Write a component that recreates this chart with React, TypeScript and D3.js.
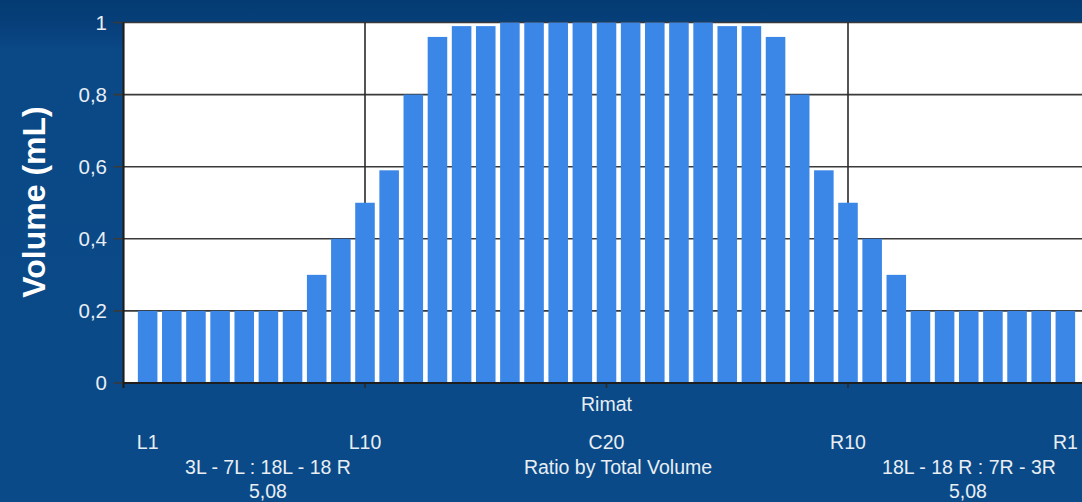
import React from "react";
import * as d3 from "d3";

const categories: string[] = [
  "L1","L2","L3","L4","L5","L6","L7","L8","L9","L10",
  "L11","L12","L13","L14","L15","L16","L17","L18","L19","C20",
  "R19","R18","R17","R16","R15","R14","R13","R12","R11","R10",
  "R9","R8","R7","R6","R5","R4","R3","R2","R1",
];

const volumes: number[] = [
  0.2, 0.2, 0.2, 0.2, 0.2, 0.2, 0.2, 0.3, 0.4, 0.5,
  0.59, 0.8, 0.96, 0.99, 0.99, 1, 1, 1, 1, 1,
  1, 1, 1, 1, 0.99, 0.99, 0.96, 0.8, 0.59, 0.5,
  0.4, 0.3, 0.2, 0.2, 0.2, 0.2, 0.2, 0.2, 0.2,
];

const yTicks: number[] = [0, 0.2, 0.4, 0.6, 0.8, 1];
const xTickLabels: string[] = ["L1", "L10", "C20", "R10", "R1"];
const xGridPositions: number[] = [0, 10, 20, 30];

const axisTitleX = "Rimat";
const axisTitleY = "Volume (mL)";
const leftRatioLabel = "3L - 7L : 18L - 18 R";
const leftRatioValue = "5,08";
const centerRatioLabel = "Ratio by Total Volume";
const rightRatioLabel = "18L - 18 R : 7R - 3R";
const rightRatioValue = "5,08";

const W = 1082;
const H = 502;
const FONT = "'Liberation Sans', Arial, sans-serif";
const TEXT = "#e8eef4";

export default function App() {
  const x = d3.scaleLinear().domain([0, 40]).range([123.5, 1089.5]);
  const y = d3.scaleLinear().domain([0, 1]).range([383, 22.5]);
  const step = x(1) - x(0);
  const barW = step * 0.81;
  const fmt = (v: number) => (v === 0 || v === 1 ? String(v) : d3.format(".1f")(v).replace(".", ","));
  const pos = (label: string) => categories.indexOf(label) + 1;

  return (
    <>
      <style>{"body{margin:0}"}</style>
      <svg width={W} height={H} style={{ display: "block" }} fontFamily={FONT}>
        <defs>
          <linearGradient id="bg" x1="0" y1="0" x2="0" y2="1">
            <stop offset="0" stopColor="#033b72" />
            <stop offset="0.05" stopColor="#073f7a" />
            <stop offset="0.1" stopColor="#0a4886" />
            <stop offset="1" stopColor="#0b4a88" />
          </linearGradient>
        </defs>
        <rect x={0} y={0} width={W} height={H} fill="url(#bg)" />
        <rect x={x(0)} y={y(1)} width={x(40) - x(0)} height={y(0) - y(1)} fill="#ffffff" />
        {/* grid */}
        {yTicks.map((t) => (
          <line key={"gy" + t} x1={x(0) - 10} x2={x(40)} y1={y(t)} y2={y(t)} stroke="#3a3a3a" strokeWidth={1.6} />
        ))}
        {xGridPositions.map((p) => (
          <line key={"gx" + p} x1={x(p)} x2={x(p)} y1={y(1)} y2={y(0) + 5} stroke="#2a2a2a" strokeWidth={1.6} />
        ))}
        {/* bars */}
        {volumes.map((v, i) => (
          <rect
            key={"b" + i}
            x={x(i + 1) - barW / 2}
            y={y(v)}
            width={barW}
            height={y(0) - y(v)}
            fill="#3b87e8"
          />
        ))}
        {/* axes */}
        <line x1={x(0)} x2={x(0)} y1={y(1)} y2={y(0) + 5} stroke="#1e1e1e" strokeWidth={1.8} />
        <line x1={x(0)} x2={x(40)} y1={y(0)} y2={y(0)} stroke="#1e1e1e" strokeWidth={1.8} />
        {yTicks.map((t) => (
          <text key={"ty" + t} x={107} y={y(t)} dy="0.36em" textAnchor="end" fontSize={20.5} fill={TEXT}>
            {fmt(t)}
          </text>
        ))}
        <text
          transform={`translate(45,202) rotate(-90)`}
          textAnchor="middle"
          fontSize={32}
          fontWeight="bold"
          fill="#ffffff"
        >
          {axisTitleY}
        </text>
        <text x={x(20)} y={411} textAnchor="middle" fontSize={19.5} fill={TEXT}>{axisTitleX}</text>
        {xTickLabels.map((l) => (
          <text key={"tx" + l} x={x(pos(l))} y={449} textAnchor="middle" fontSize={19.5} fill={TEXT}>
            {l}
          </text>
        ))}
        <text x={268} y={474} textAnchor="middle" fontSize={19.5} fill={TEXT}>{leftRatioLabel}</text>
        <text x={268} y={498} textAnchor="middle" fontSize={19.5} fill={TEXT}>{leftRatioValue}</text>
        <text x={618} y={474} textAnchor="middle" fontSize={19.5} fill={TEXT}>{centerRatioLabel}</text>
        <text x={969} y={474} textAnchor="middle" fontSize={19.5} fill={TEXT}>{rightRatioLabel}</text>
        <text x={968} y={498} textAnchor="middle" fontSize={19.5} fill={TEXT}>{rightRatioValue}</text>
      </svg>
    </>
  );
}
